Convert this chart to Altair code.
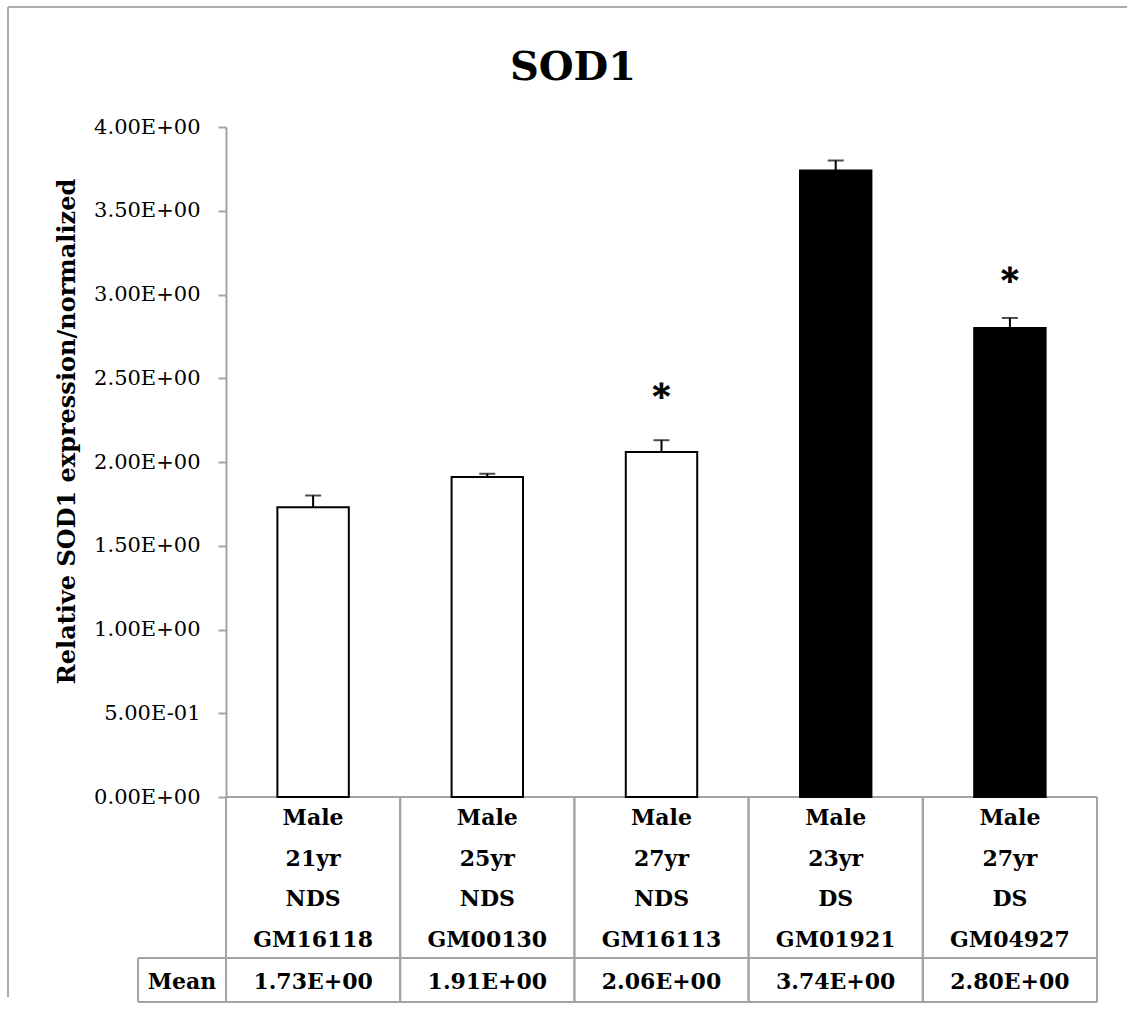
import altair as alt
import pandas as pd

# Cell lines and their annotations (one column of the table per line)
cell_lines = ["GM16118", "GM00130", "GM16113", "GM01921", "GM04927"]
sexes = ["Male", "Male", "Male", "Male", "Male"]
ages = ["21yr", "25yr", "27yr", "23yr", "27yr"]
groups = ["NDS", "NDS", "NDS", "DS", "DS"]

# Relative SOD1 expression (mean) and upper error
means = [1.73, 1.91, 2.06, 3.74, 2.80]
errors = [0.07, 0.02, 0.07, 0.06, 0.06]

# Height of the significance asterisk (None = no mark)
star_levels = [None, None, 2.43, None, 3.12]

y_ticks = [0.0, 0.5, 1.0, 1.5, 2.0, 2.5, 3.0, 3.5, 4.0]

PLOT_W, PLOT_H = 871, 670
LINE = "#a3a3a3"
FONT = "DejaVu Serif"

df = pd.DataFrame({
    "cell": cell_lines,
    "sex": sexes,
    "age": ages,
    "group": groups,
    "mean": means,
    "err": errors,
    "star": star_levels,
})
df["top"] = df["mean"] + df["err"]
df["mean_label"] = [f"{v:.2f}E+00" for v in means]

x_scale = alt.Scale(paddingInner=0, paddingOuter=0)


def X(band=0.5):
    return alt.X("cell:N", sort=cell_lines, axis=None, scale=x_scale, bandPosition=band)


y_axis = alt.Axis(
    values=y_ticks,
    labelExpr="(datum.value > 0 && datum.value < 1) ? format(datum.value * 10, '.2f') + 'E-01' : format(datum.value, '.2f') + 'E+00'",
    labelFont=FONT, labelFontSize=21, labelColor="black", labelPadding=18,
    domainColor=LINE, domainWidth=2,
    tickColor=LINE, tickWidth=2, tickSize=8,
    grid=False,
    title="Relative SOD1 expression/normalized",
    titleFont=FONT, titleFontSize=24, titleFontWeight="bold", titleColor="black",
    titleAngle=270, titleAlign="center", titleBaseline="middle",
    titleX=-159, titleY=304,
)
y_scale = alt.Scale(domain=[0, 4], nice=False, zero=True)


def Y(field):
    return alt.Y(field, scale=y_scale, axis=y_axis)


base = alt.Chart(df)

bars = base.mark_bar(
    width=alt.RelativeBandSize(0.41), stroke="black", strokeWidth=2
).encode(
    x=X(),
    y=Y("mean:Q"),
    fill=alt.Fill("group:N", scale=alt.Scale(domain=["NDS", "DS"], range=["white", "black"]), legend=None),
)

err_line = base.mark_rule(color="black", strokeWidth=2).encode(
    x=X(), y=Y("mean:Q"), y2="top:Q"
)
err_cap = base.mark_tick(color="black", size=16, thickness=2).encode(
    x=X(), y=Y("top:Q")
)

stars = base.transform_filter("isValid(datum.star)").mark_text(
    text="*", font=FONT, fontSize=34, fontWeight="bold", baseline="middle", dy=8, color="black",
    stroke="black", strokeWidth=0.8,
).encode(x=X(), y=Y("star:Q"))

# Data table under the bars
TABLE_TOP = PLOT_H
MEAN_TOP = 831
TABLE_BOTTOM = 875
MEAN_LEFT = -88

one = alt.Chart(pd.DataFrame({"k": [0]}))

h_rules = [
    one.mark_rule(color=LINE, strokeWidth=2).encode(
        x=alt.value(x0), x2=alt.value(PLOT_W), y=alt.value(yv)
    )
    for x0, yv in [(0, TABLE_TOP), (MEAN_LEFT, MEAN_TOP), (MEAN_LEFT, TABLE_BOTTOM)]
]
v_left = base.mark_rule(color=LINE, strokeWidth=2).encode(
    x=X(0), y=alt.value(TABLE_TOP), y2=alt.value(TABLE_BOTTOM)
)
v_right = base.mark_rule(color=LINE, strokeWidth=2).encode(
    x=X(1), y=alt.value(TABLE_TOP), y2=alt.value(TABLE_BOTTOM)
)
v_mean = one.mark_rule(color=LINE, strokeWidth=2).encode(
    x=alt.value(MEAN_LEFT), y=alt.value(MEAN_TOP), y2=alt.value(TABLE_BOTTOM)
)

cell_text = dict(font=FONT, fontSize=22, fontWeight="bold", baseline="middle", color="black")
rows = [("sex", 691), ("age", 732), ("group", 772), ("cell", 813), ("mean_label", 855)]
table_text = [
    base.mark_text(**cell_text).encode(x=X(), y=alt.value(yc), text=f"{field}:N")
    for field, yc in rows
]
mean_head = one.mark_text(**cell_text).encode(
    x=alt.value(MEAN_LEFT / 2), y=alt.value(855), text=alt.value("Mean")
)

title = one.mark_text(
    font=FONT, fontSize=40, fontWeight="bold", baseline="alphabetic", color="black"
).encode(x=alt.value(347), y=alt.value(-47), text=alt.value("SOD1"))

# Outer frame (left and top edges)
frame_top = one.mark_rule(color="#ababab", strokeWidth=2).encode(
    x=alt.value(-218), x2=alt.value(901), y=alt.value(-120)
)
frame_left = one.mark_rule(color="#ababab", strokeWidth=2).encode(
    x=alt.value(-218), y=alt.value(-120), y2=alt.value(870)
)

chart = alt.layer(
    frame_top, frame_left, title,
    *h_rules, v_left, v_right, v_mean,
    bars, err_line, err_cap, stars,
    *table_text, mean_head,
).properties(
    width=PLOT_W, height=PLOT_H,
    padding={"left": 7, "top": 6, "right": 0, "bottom": 0},
).configure(background="white").configure_view(stroke=None)

chart.save("out.html", embed_options={"renderer": "svg", "actions": False})
